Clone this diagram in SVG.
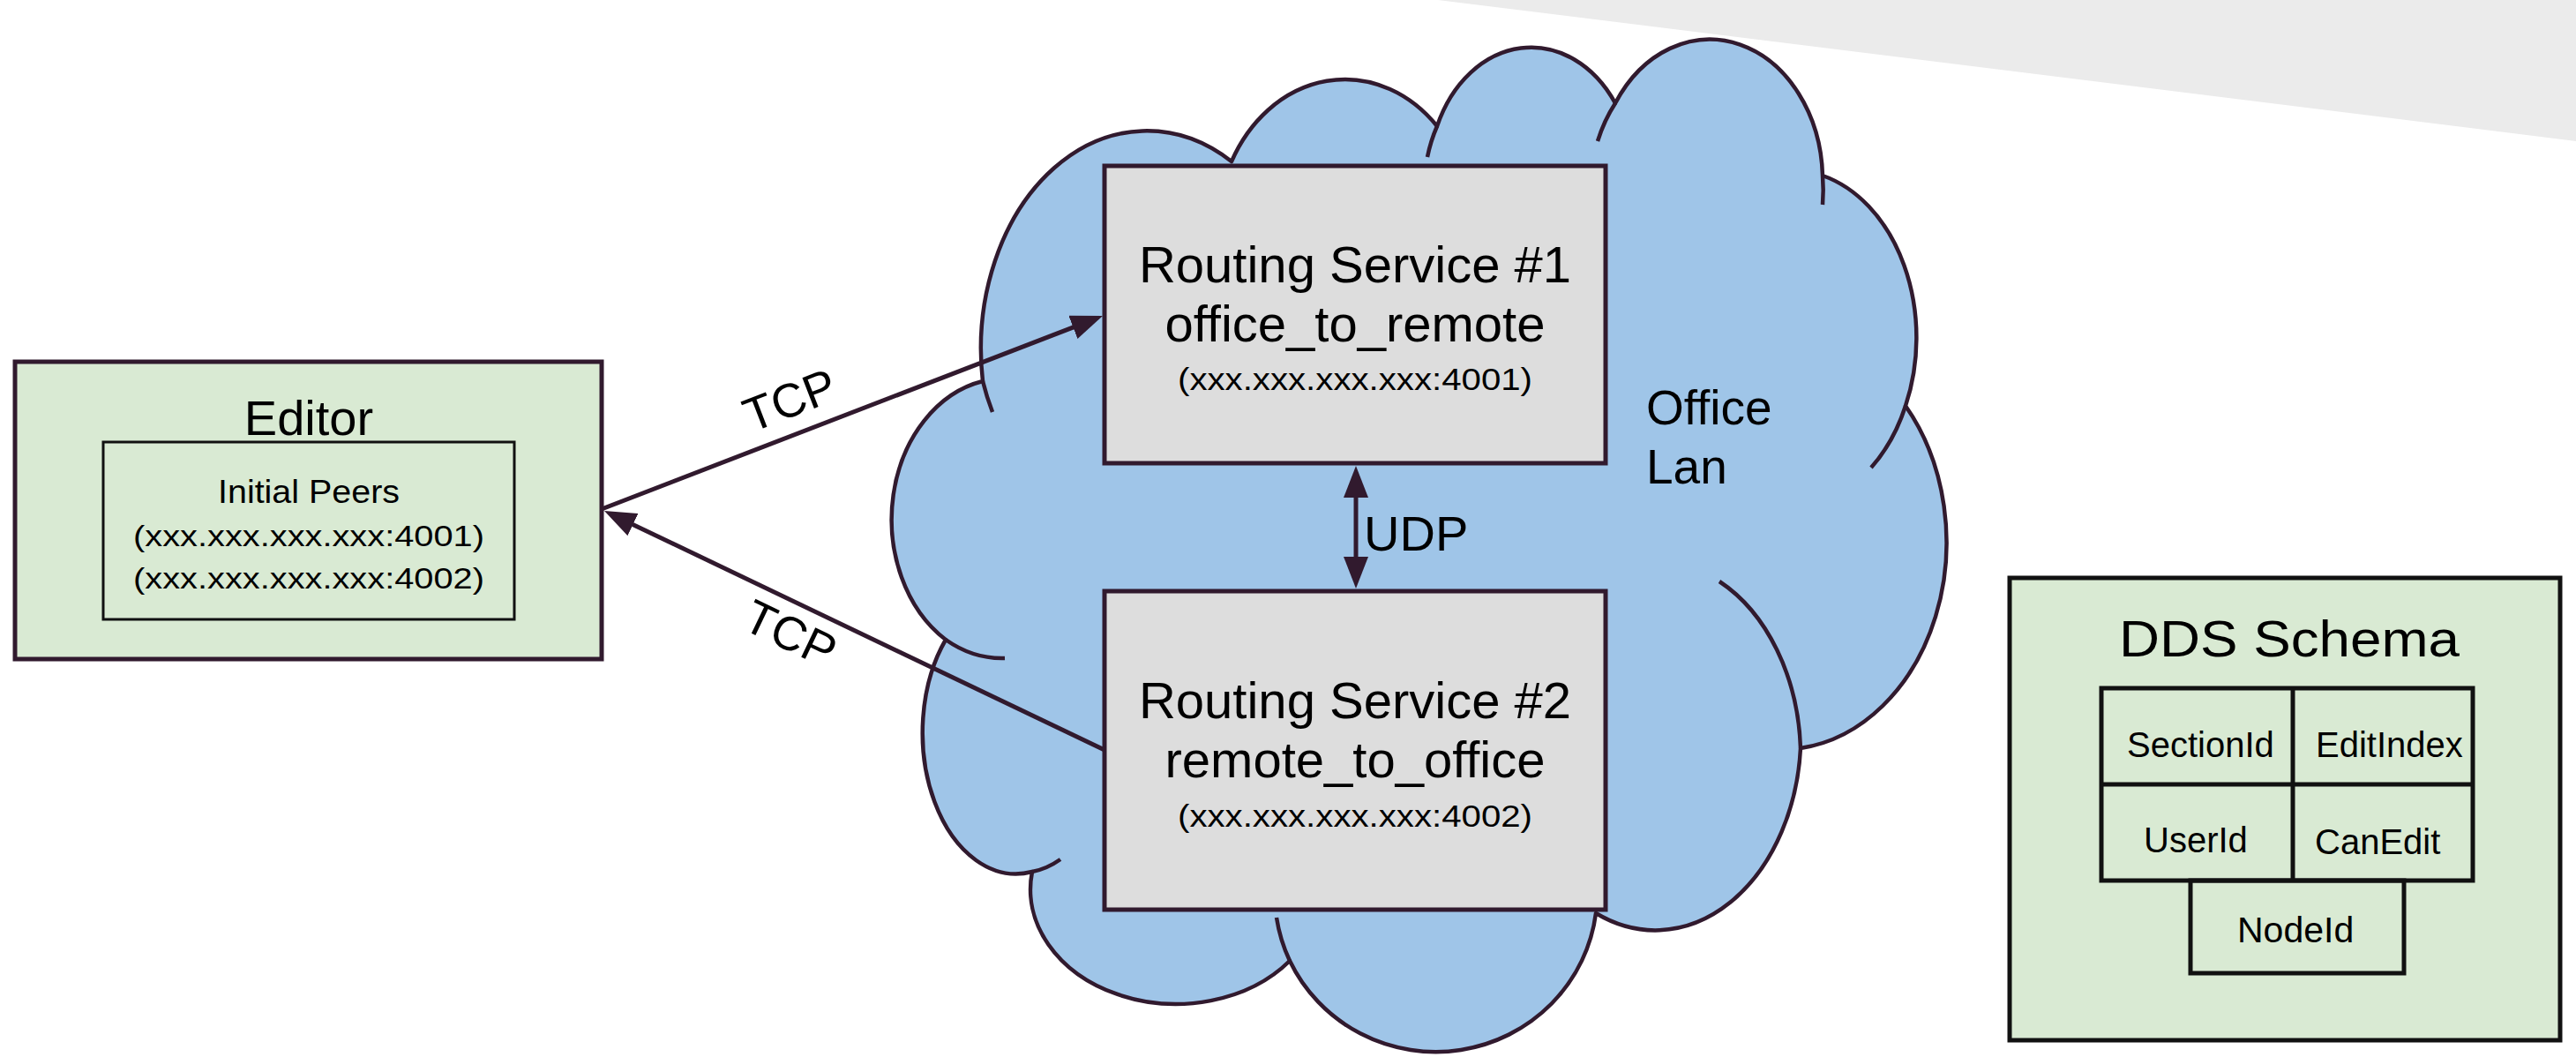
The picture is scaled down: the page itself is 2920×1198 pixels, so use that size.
<svg xmlns="http://www.w3.org/2000/svg" width="2920" height="1198" viewBox="0 0 2920 1198">
<style>
text{font-family:"Liberation Sans",Arial,sans-serif;fill:#000}
.ln{stroke:#311a2e;stroke-width:5;fill:none}
.box{fill:#dddddd;stroke:#311a2e;stroke-width:5}
.green{fill:#d9ead3}
.cloud{fill:#9fc5e8;stroke:#311a2e;stroke-width:4.5;stroke-linejoin:round}
.stub{fill:none;stroke:#311a2e;stroke-width:4.5;stroke-linecap:butt}
.cell{fill:none;stroke:#111;stroke-width:5}
.mid{text-anchor:middle}
</style>
<defs>
<marker id="arrow" markerUnits="userSpaceOnUse" markerWidth="36" markerHeight="28" refX="24" refY="14" orient="auto-start-reverse" viewBox="0 0 36 28">
<path d="M0,0 L36,14 L0,28 Z" fill="#311a2e"/>
</marker>
</defs>
<rect width="2920" height="1198" fill="#fff"/>
<polygon points="1630,0 2920,0 2920,160" fill="#ebebeb"/>

<g id="office-lan">
<path class="cloud" d="M 1114 432 A 188 247 0 0 1 1396 183 A 145 173 0 0 1 1629 143 A 116 147 0 0 1 1831 117 A 128 160 0 0 1 2066 199 A 143 190 0 0 1 2160 460 A 188 235 0 0 1 2041 848 A 165 222 0 0 1 1809 1035 A 183 180 0 0 1 1462 1089 A 165 130 0 0 1 1170 988 A 106 160 0 0 1 1072 725 A 129 160 0 0 1 1114 432 Z"/>
<path class="stub" d="M 1114 432 A 188 247 0 0 0 1125 467"/>
<path class="stub" d="M 1629 143 A 116 147 0 0 0 1618 178"/>
<path class="stub" d="M 1831 117 A 128 160 0 0 0 1811 160"/>
<path class="stub" d="M 2066 199 A 128 160 0 0 1 2066 232"/>
<path class="stub" d="M 2160 460 A 143 190 0 0 1 2121 530"/>
<path class="stub" d="M 1949 659 A 165 222 0 0 1 2041 848"/>
<path class="stub" d="M 1462 1089 A 183 180 0 0 1 1447 1040"/>
<path class="stub" d="M 1170 988 A 106 160 0 0 0 1202 974"/>
<path class="stub" d="M 1072 725 A 129 160 0 0 0 1139 746"/>
<text x="1866" y="481" font-size="55">Office</text>
<text x="1866" y="548" font-size="55">Lan</text>
</g>

<g id="editor">
<rect class="green" x="17" y="410" width="665" height="337" stroke="#311a2e" stroke-width="5"/>
<text class="mid" x="350" y="493" font-size="56">Editor</text>
<rect x="117" y="501" width="466" height="201" fill="none" stroke="#111" stroke-width="3"/>
<text class="mid" x="350" y="570" font-size="37" textLength="206" lengthAdjust="spacingAndGlyphs">Initial Peers</text>
<text class="mid" x="350" y="619" font-size="34" textLength="398" lengthAdjust="spacingAndGlyphs">(xxx.xxx.xxx.xxx:4001)</text>
<text class="mid" x="350" y="667" font-size="34" textLength="398" lengthAdjust="spacingAndGlyphs">(xxx.xxx.xxx.xxx:4002)</text>
</g>

<g id="routing-service-1">
<rect class="box" x="1252" y="188" width="568" height="337"/>
<text class="mid" x="1536" y="320" font-size="58">Routing Service #1</text>
<text class="mid" x="1536" y="387" font-size="58">office_to_remote</text>
<text class="mid" x="1536" y="442" font-size="35" textLength="402" lengthAdjust="spacingAndGlyphs">(xxx.xxx.xxx.xxx:4001)</text>
</g>

<g id="routing-service-2">
<rect class="box" x="1252" y="670" width="568" height="361"/>
<text class="mid" x="1536" y="814" font-size="58">Routing Service #2</text>
<text class="mid" x="1536" y="881" font-size="58">remote_to_office</text>
<text class="mid" x="1536" y="937" font-size="35" textLength="402" lengthAdjust="spacingAndGlyphs">(xxx.xxx.xxx.xxx:4002)</text>
</g>

<g id="dds-schema">
<rect class="green" x="2278" y="655" width="624" height="524" stroke="#111" stroke-width="5"/>
<text class="mid" x="2595" y="744" font-size="57" textLength="386" lengthAdjust="spacingAndGlyphs">DDS Schema</text>
<rect class="cell" x="2382" y="780" width="421" height="218"/>
<line class="cell" x1="2599" y1="780" x2="2599" y2="998"/>
<line class="cell" x1="2382" y1="889" x2="2803" y2="889"/>
<rect class="cell" x="2483" y="998" width="242" height="105"/>
<text x="2411" y="858" font-size="40">SectionId</text>
<text x="2625" y="858" font-size="40">EditIndex</text>
<text x="2430" y="966" font-size="40">UserId</text>
<text x="2624" y="968" font-size="40">CanEdit</text>
<text x="2536" y="1068" font-size="41">NodeId</text>
</g>

<g id="connectors">
<path class="ln" d="M 682 577 L 1238.8 362.3" marker-end="url(#arrow)"/>
<path class="ln" d="M 1252 850 L 695.8 584.2" marker-end="url(#arrow)"/>
<path class="ln" d="M 1537 540 L 1537 655" marker-start="url(#arrow)" marker-end="url(#arrow)"/>
<text class="mid" font-size="54" transform="translate(902,471) rotate(-21.2)">TCP</text>
<text class="mid" font-size="54" transform="translate(888,735) rotate(25.6)">TCP</text>
<text x="1546" y="624" font-size="56">UDP</text>
</g>
</svg>
